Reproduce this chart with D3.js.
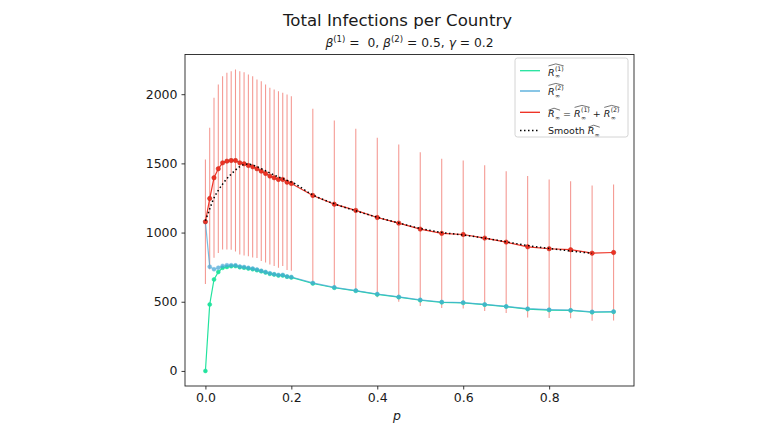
<!DOCTYPE html>
<html><head><meta charset="utf-8">
<script src="https://cdn.jsdelivr.net/npm/d3@7"></script>
<style>
body{margin:0;background:#fff}
svg{display:block}
text{font-family:"DejaVu Sans",sans-serif;fill:#1a1a1a;white-space:pre}
</style>
</head><body><svg id="c" width="780" height="440"></svg>
<script>
// ---------------- data ----------------
const pValues = [0,0.01,0.02,0.03,0.04,0.05,0.06,0.07,0.08,0.09,0.10,0.11,0.12,0.13,0.14,0.15,0.16,0.17,0.18,0.19,0.20,
                 0.25,0.30,0.35,0.40,0.45,0.50,0.55,0.60,0.65,0.70,0.75,0.80,0.85,0.90,0.95];
const totalMean = [1078,1246,1396,1461,1504,1516,1521,1521,1504,1497,1485,1475,1461,1444,1427,1408,1396,1384,1384,1364,1355,
                   1268,1205,1160,1109,1068,1025,994,986,960,931,897,883,876,851,856];
const totalErr = [450,511,578,609,626,639,645,657,662,662,657,655,645,650,643,638,638,638,626,634,631,
                  626,605,590,576,568,556,539,535,527,513,511,501,495,489,491];
const r1Values = [0,480,661,715,745,752,757,758,750,746,740,735,728,720,712,702,697,690,690,681,676,
                  632,601,579,553,533,511,496,492,479,465,447,440,437,424,427];
const r2Values = [1078,753,735,746,759,764,764,763,754,751,745,740,733,724,715,706,699,694,694,683,679,
                  636,604,581,556,535,514,498,494,481,466,450,443,439,427,429];
const smoothP = [0,0.01,0.02,0.03,0.04,0.05,0.06,0.07,0.08,0.09,0.10,0.11,0.12,0.13,0.14,0.15,0.16,0.17,0.18,0.19,0.20,
                 0.25,0.30,0.35,0.40,0.45,0.50,0.55,0.60,0.65,0.70,0.75,0.80,0.85,0.90];
const smoothValues = [1085,1170,1250,1305,1350,1390,1422,1452,1476,1492,1495,1488,1476,1462,1447,1431,1416,1402,1390,1377,1365,
                      1272,1208,1157,1111,1069,1030,1001,982,960,933,906,885,867,850];
const xTicks = [0,0.2,0.4,0.6,0.8];
const xTickLabels = ["0.0","0.2","0.4","0.6","0.8"];
const yTicks = [0,500,1000,1500,2000];
const yTickLabels = ["0","500","1000","1500","2000"];

const colR1 = "#22e39e", colR2 = "#4aa8d8", colR = "#ee2a1c", colErr = "#ef6a60";

// ---------------- scales ----------------
const svg = d3.select("#c");
const L = 185, R = 634, T = 54.5, B = 386;
const pMin = d3.min(pValues), pMax = d3.max(pValues), pPad = (pMax - pMin) * 0.05;
const lo = Math.min(d3.min(r1Values), d3.min(totalMean.map((m,i)=>m-totalErr[i])));
const hi = d3.max(totalMean.map((m,i)=>m+totalErr[i]));
const yPad = (hi - lo) * 0.05;
const x = d3.scaleLinear().domain([pMin - pPad, pMax + pPad]).range([L, R]);
const y = d3.scaleLinear().domain([lo - yPad, hi + yPad]).range([B, T]);

svg.append("defs").append("clipPath").attr("id","clip")
  .append("rect").attr("x",L).attr("y",T).attr("width",R-L).attr("height",B-T);

// ---------------- axes ----------------
const xAxis = svg.append("g").attr("transform",`translate(0,${B})`)
  .call(d3.axisBottom(x).tickValues(xTicks).tickSize(3.5).tickPadding(4)
        .tickFormat((d,i)=>xTickLabels[i]));
const yAxis = svg.append("g").attr("transform",`translate(${L},0)`)
  .call(d3.axisLeft(y).tickValues(yTicks).tickSize(3.5).tickPadding(4)
        .tickFormat((d,i)=>yTickLabels[i]));
[xAxis,yAxis].forEach(a=>{
  a.select(".domain").remove();
  a.selectAll(".tick line").attr("stroke","#222").attr("stroke-width",0.9);
  a.selectAll(".tick text").style("font-size","12.5px").style("font-family","DejaVu Sans").attr("fill","#1a1a1a");
});

// ---------------- plot ----------------
const plot = svg.append("g").attr("clip-path","url(#clip)");
const idx = d3.range(pValues.length);

// error bars
plot.append("g").selectAll("line").data(idx).join("line")
  .attr("x1",i=>x(pValues[i])).attr("x2",i=>x(pValues[i]))
  .attr("y1",i=>y(totalMean[i]-totalErr[i])).attr("y2",i=>y(totalMean[i]+totalErr[i]))
  .attr("stroke",colErr).attr("stroke-opacity",0.7).attr("stroke-width",1.05);

function series(vals, col, op, rad, edge){
  const g = plot.append("g").attr("opacity",op);
  g.append("path").datum(idx)
    .attr("d", d3.line().x(i=>x(pValues[i])).y(i=>y(vals[i])))
    .attr("fill","none").attr("stroke",col).attr("stroke-width",1.2);
  g.selectAll("circle").data(idx).join("circle")
    .attr("cx",i=>x(pValues[i])).attr("cy",i=>y(vals[i])).attr("r",rad)
    .attr("fill",col).attr("stroke",edge||col).attr("stroke-width",0.5);
}
series(r1Values, colR1, 1, 2.0);
series(r2Values, colR2, 0.75, 2.0);
series(totalMean, colR, 0.95, 2.2, "#c0200f");

// smooth
plot.append("path").datum(d3.range(smoothP.length))
  .attr("d", d3.line().x(i=>x(smoothP[i])).y(i=>y(smoothValues[i])).curve(d3.curveMonotoneX))
  .attr("fill","none").attr("stroke","#000").attr("stroke-width",1.5)
  .attr("stroke-dasharray","1.5,2.5");

// spines
svg.append("rect").attr("x",L).attr("y",T).attr("width",R-L).attr("height",B-T)
  .attr("fill","none").attr("stroke","#222").attr("stroke-width",0.9);

// ---------------- titles ----------------
svg.append("text").attr("x",397.5).attr("y",26).attr("text-anchor","middle")
  .style("font-size","16.6px").text("Total Infections per Country");

const sub = svg.append("text").attr("x",409.5).attr("y",46.5).attr("text-anchor","middle").style("font-size","12.3px");
const subParts = [["β","i"],["(1)","sup"],[" =  0, ",""],["β","i"],["(2)","sup"],[" = 0.5, ",""],["γ","i"],[" = 0.2",""]];
let raised = false;
subParts.forEach(([s,k])=>{
  const t = sub.append("tspan").text(s);
  if(k==="i") t.style("font-style","italic");
  if(k==="sup"){ t.attr("dy",-5).style("font-size","8.6px"); raised = true; }
  else if(raised){ t.attr("dy",5); raised = false; }
});

svg.append("text").attr("x",397).attr("y",420).attr("text-anchor","middle")
  .style("font-size","12.5px").style("font-style","italic").text("p");

// ---------------- legend ----------------
const leg = svg.append("g");
leg.append("rect").attr("x",515).attr("y",58).attr("width",113).attr("height",79)
  .attr("rx",2.5).attr("fill","#fff").attr("fill-opacity",0.85).attr("stroke","#cfcfcf").attr("stroke-width",0.9);
const FS = 9.5, SFS = 6.2;

function measure(s, size, italic){
  const t = svg.append("text").style("font-size",size+"px").style("font-style",italic?"italic":"normal").text(s);
  const w = t.node().getComputedTextLength(); t.remove(); return w;
}
// R with subscript ∞ and stacked superscript, topped with a wide hat
function hatR(g, x0, yb, sup){
  const wR = measure("R", FS, true), wInf = measure("∞", SFS), wSup = sup ? measure(sup, SFS) : 0;
  g.append("text").attr("x",x0).attr("y",yb).style("font-size",FS+"px").style("font-style","italic").text("R");
  g.append("text").attr("x",x0+wR+0.3).attr("y",yb+2.5).style("font-size",SFS+"px").text("∞");
  if(sup) g.append("text").attr("x",x0+wR+0.3).attr("y",yb-4.9).style("font-size",SFS+"px").text(sup);
  const w = wR + 0.3 + Math.max(wInf, wSup);
  const top = sup ? yb - 11.6 : yb - 8.8;
  g.append("path").attr("d",`M${x0+0.5},${top+2} L${x0+w/2},${top} L${x0+w},${top+2}`)
    .attr("fill","none").attr("stroke","#1a1a1a").attr("stroke-width",0.6);
  return w;
}

const legendRows = [
  {col:colR1, dash:null, ly:70.7, ty:75.5},
  {col:colR2, dash:null, ly:91, ty:95},
  {col:colR, dash:null, ly:112.3, ty:117},
  {col:"#000", dash:"1.5,2.5", ly:130.5, ty:134}
];
legendRows.forEach(r=>{
  const l = leg.append("line").attr("x1",520).attr("x2",540).attr("y1",r.ly).attr("y2",r.ly)
    .attr("stroke",r.col).attr("stroke-width",r.dash?1.5:1.3);
  if(r.dash) l.attr("stroke-dasharray",r.dash);
});
const tx = 548;
hatR(leg, tx, legendRows[0].ty, "(1)");
hatR(leg, tx, legendRows[1].ty, "(2)");
{
  let cx = tx; const yb = legendRows[2].ty;
  cx += hatR(leg, cx, yb, null);
  const wEq = measure(" = ", FS);
  leg.append("text").attr("x",cx).attr("y",yb).style("font-size",FS+"px").text(" = ");
  cx += wEq;
  cx += hatR(leg, cx, yb, "(1)");
  const wPl = measure(" + ", FS);
  leg.append("text").attr("x",cx).attr("y",yb).style("font-size",FS+"px").text(" + ");
  cx += wPl;
  hatR(leg, cx, yb, "(2)");
}
{
  let cx = tx; const yb = legendRows[3].ty;
  const w = measure("Smooth ", FS);
  leg.append("text").attr("x",cx).attr("y",yb).style("font-size",FS+"px").text("Smooth ");
  hatR(leg, cx + w, yb, null);
}
</script>
</body></html>
